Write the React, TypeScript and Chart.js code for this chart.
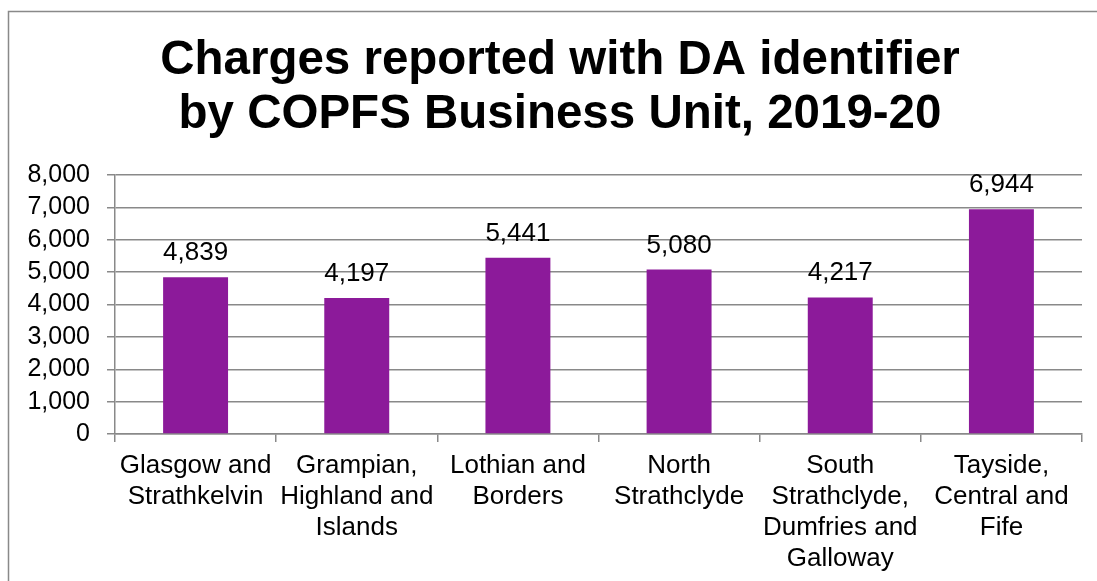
import React, { useEffect, useRef } from "react";
import { Chart, registerables } from "chart.js";

Chart.register(...registerables);

const titleLines = ["Charges reported with DA identifier", "by COPFS Business Unit, 2019-20"];
const categories: string[][] = [
  ["Glasgow and", "Strathkelvin"],
  ["Grampian,", "Highland and", "Islands"],
  ["Lothian and", "Borders"],
  ["North", "Strathclyde"],
  ["South", "Strathclyde,", "Dumfries and", "Galloway"],
  ["Tayside,", "Central and", "Fife"],
];
const charges = [4839, 4197, 5441, 5080, 4217, 6944];
const yMin = 0;
const yMax = 8000;
const yStep = 1000;

const FONT = '"Liberation Sans", Arial, Helvetica, sans-serif';
const GRAY = "#898989";
const PURPLE = "#8C1A9A";

const framePlugin = {
  id: "frame",
  beforeDraw(chart: any) {
    const ctx = chart.ctx;
    ctx.save();
    ctx.fillStyle = "#ffffff";
    ctx.fillRect(0, 0, chart.width, chart.height);
    ctx.strokeStyle = GRAY;
    ctx.lineWidth = 1.5;
    ctx.beginPath();
    ctx.moveTo(8.5, chart.height + 2);
    ctx.lineTo(8.5, 11.5);
    ctx.lineTo(chart.width + 2, 11.5);
    ctx.stroke();
    ctx.fillStyle = "#000000";
    ctx.font = `bold 47.5px ${FONT}`;
    ctx.textAlign = "center";
    ctx.textBaseline = "alphabetic";
    ctx.fillText(titleLines[0], 560, 74);
    ctx.fillText(titleLines[1], 560, 128);
    ctx.restore();
  },
};

const labelPlugin = {
  id: "barLabels",
  afterDatasetsDraw(chart: any) {
    const ctx = chart.ctx;
    const meta = chart.getDatasetMeta(0);
    ctx.save();
    ctx.fillStyle = "#000000";
    ctx.font = `26px ${FONT}`;
    ctx.textAlign = "center";
    ctx.textBaseline = "alphabetic";
    meta.data.forEach((bar: any, i: number) => {
      ctx.fillText(charges[i].toLocaleString("en-US"), bar.x, bar.y - 17);
    });
    ctx.restore();
  },
};

export default function App() {
  const ref = useRef<HTMLCanvasElement | null>(null);
  useEffect(() => {
    document.body.style.margin = "0";
    if (!ref.current) return;
    const chart = new Chart(ref.current, {
      type: "bar",
      data: {
        labels: categories,
        datasets: [
          {
            data: charges,
            backgroundColor: PURPLE,
            borderWidth: 0,
            categoryPercentage: 1,
            barPercentage: 0.403,
          },
        ],
      },
      options: {
        responsive: false,
        animation: false,
        events: [],
        layout: { padding: { top: 175, right: 15, bottom: 0, left: 0 } },
        plugins: {
          legend: { display: false },
          title: { display: false },
          tooltip: { enabled: false },
        },
        scales: {
          x: {
            grid: {
              display: true,
              drawOnChartArea: false,
              drawTicks: true,
              tickLength: 8,
              color: GRAY,
              lineWidth: 1.5,
              offset: true,
            },
            border: { display: true, color: GRAY, width: 1.5 },
            ticks: {
              color: "#000000",
              font: { family: FONT, size: 26, lineHeight: 1.2 },
              padding: 8,
              maxRotation: 0,
              autoSkip: false,
            },
            afterFit(scale: any) {
              scale.height = 147;
            },
          },
          y: {
            min: yMin,
            max: yMax,
            grid: {
              color: GRAY,
              lineWidth: 1.5,
              tickLength: 8,
              drawTicks: true,
            },
            border: { display: true, color: GRAY, width: 1.5 },
            ticks: {
              stepSize: yStep,
              autoSkip: false,
              color: "#000000",
              font: { family: FONT, size: 25 },
              padding: 17,
              callback: (v: any) => Number(v).toLocaleString("en-US"),
            },
            afterFit(scale: any) {
              scale.width = 115;
            },
          },
        },
      },
      plugins: [framePlugin, labelPlugin],
    });
    return () => chart.destroy();
  }, []);
  return (
    <div style={{ position: "absolute", left: 0, top: 0, width: 1097, height: 581 }}>
      <canvas ref={ref} width={1097} height={581} style={{ display: "block" }} />
    </div>
  );
}
